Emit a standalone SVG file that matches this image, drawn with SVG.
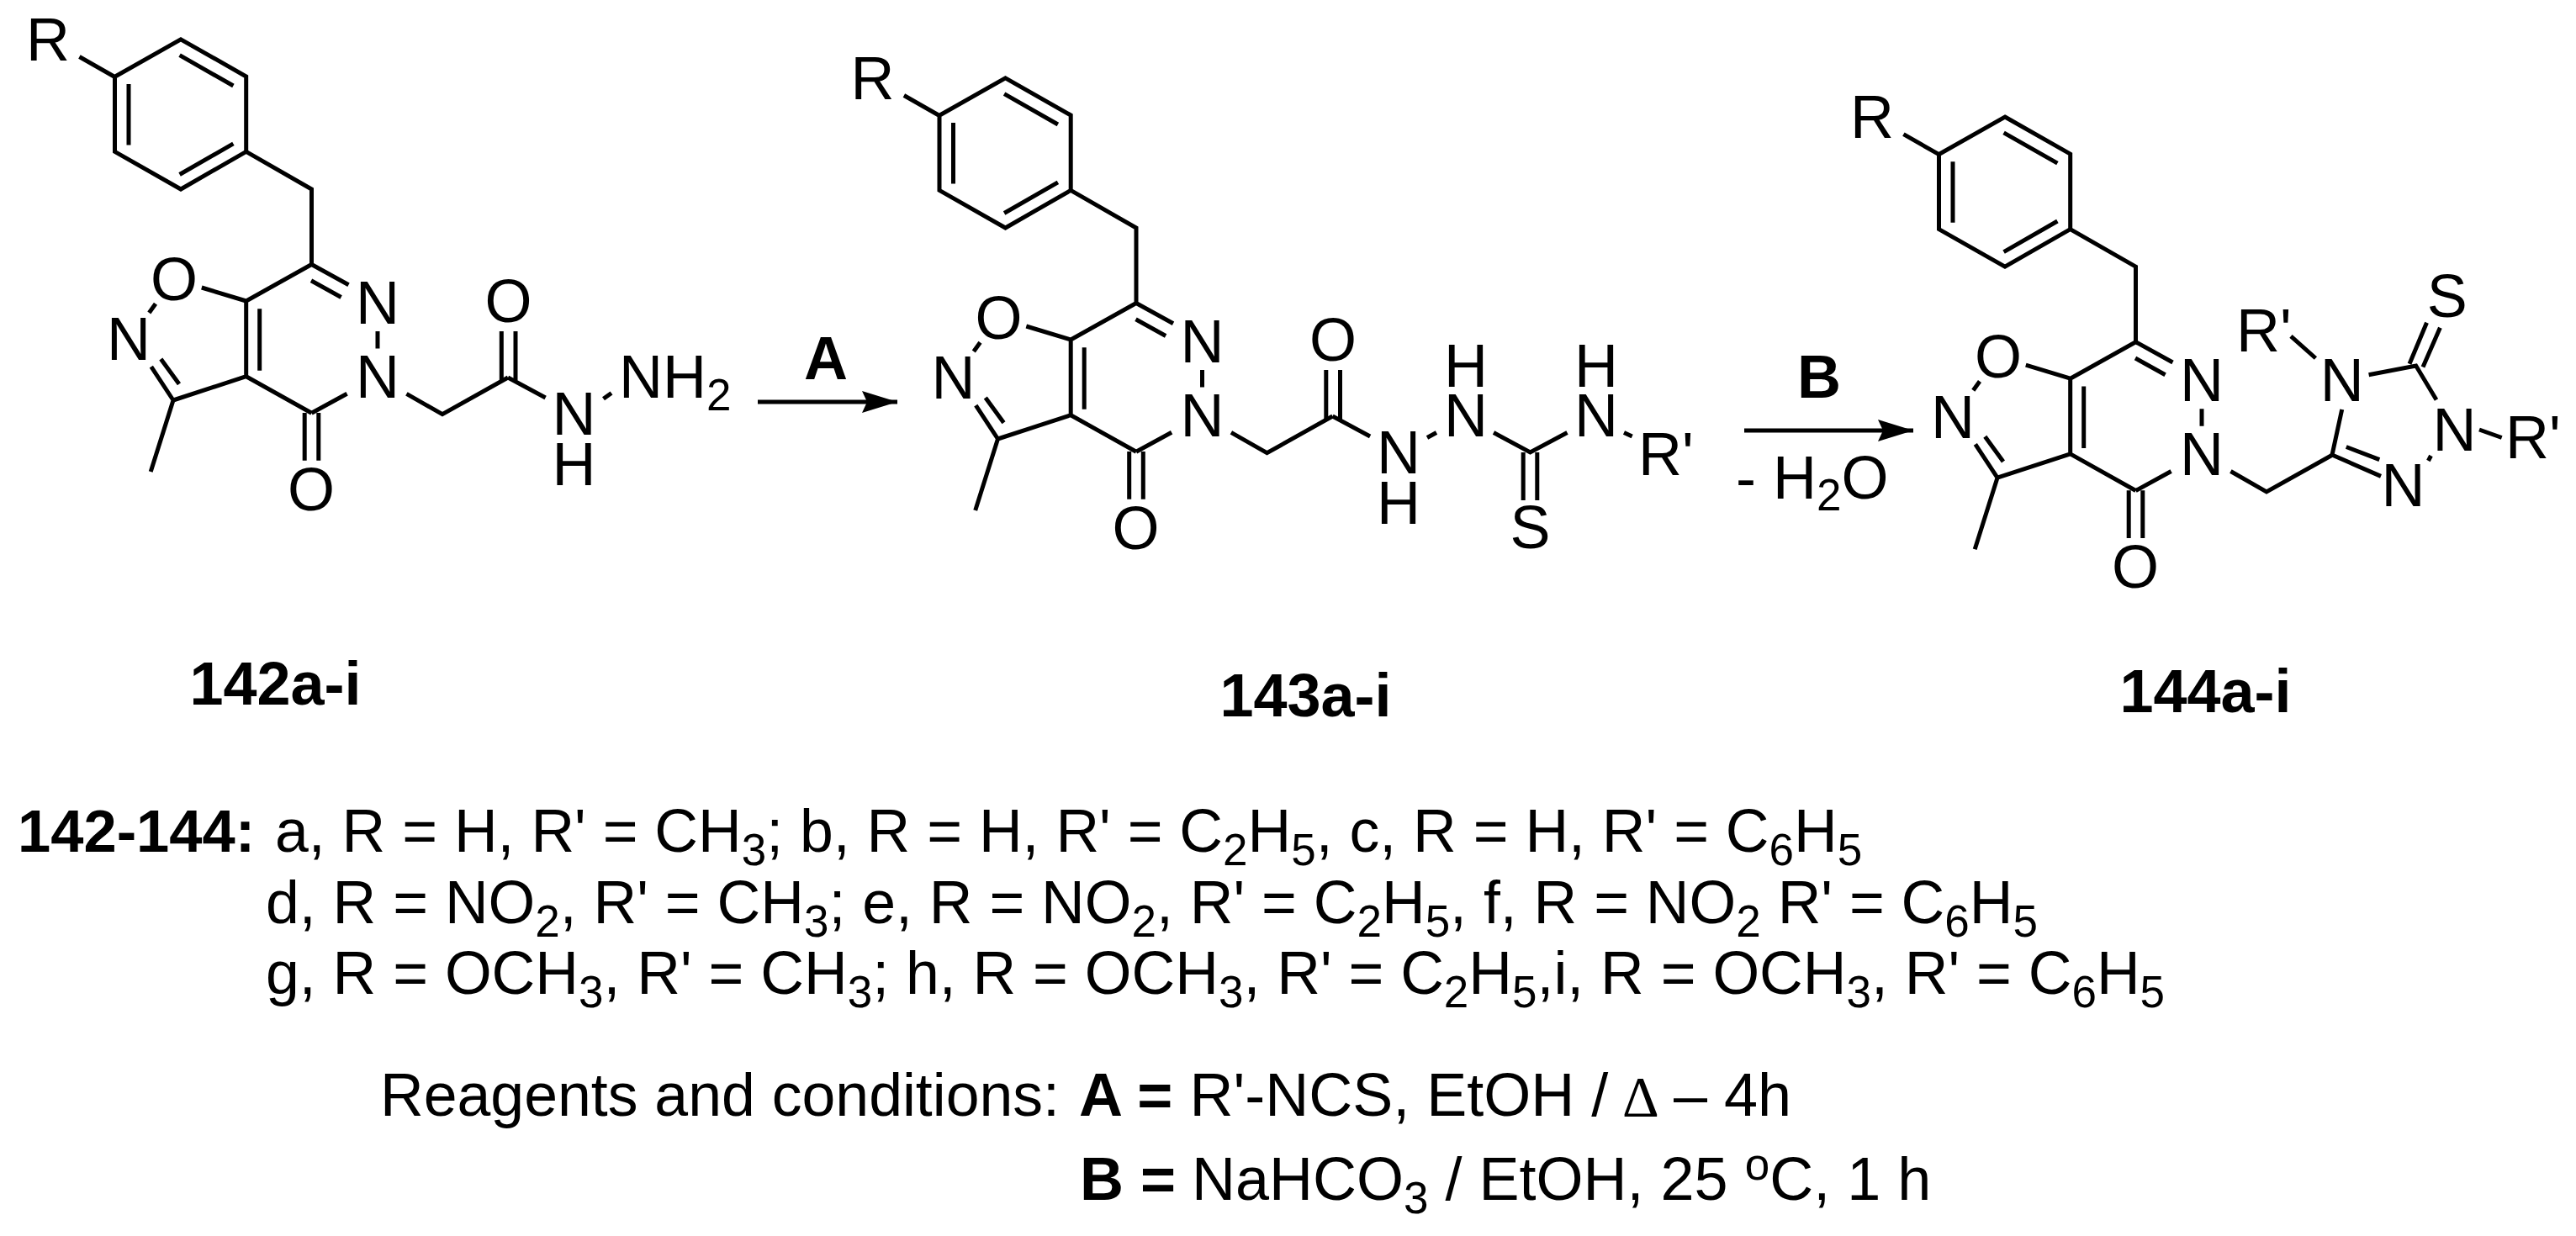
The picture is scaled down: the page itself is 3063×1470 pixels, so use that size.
<svg xmlns="http://www.w3.org/2000/svg" xmlns:xlink="http://www.w3.org/1999/xlink" width="3063" height="1470" viewBox="0 0 3063 1470">
<style>
text{font-family:"Liberation Sans",Arial,sans-serif;font-size:72px;fill:#000}
.a{text-anchor:middle}
.b{font-weight:bold}
.s{font-size:53px}
.leg{font-size:71.6px}
.bond{fill:none;stroke:#000;stroke-width:5;stroke-linejoin:miter;stroke-linecap:butt}
.arr{fill:none;stroke:#000;stroke-width:5}
</style>
<defs>
<path id="core" class="bond" d="M94.4 67.5L136.5 91.5M215 46.8L292.7 91V180.4L215 225L136.5 180.4V91.3ZM213.6 65.7L277.4 102M153 100V172.6M213.6 207.5L277.4 170.8M292.7 180.4L370.5 225V314.5L292.7 358V447.7L370.5 491.3M370.5 314.5L414.5 338.8M370 333.8L405.6 353.5M449 394V414.6M412.6 468.3L370.5 491.3M483.4 468.3L526 492.7L604 449M239.8 342L292.7 358M177.3 372L185 361.3M179.8 436.2L206 476M191.3 427L213 456.8M206 476L292.7 447.7M206 476L179.2 561M362.2 491V547.7M378.8 491V547.7M308.7 367.3V440.8"/>
<path id="acyl" class="bond" d="M596.3 453V394M613 453V394M604 449L648.6 473"/>
<marker id="head" markerUnits="userSpaceOnUse" markerWidth="44" markerHeight="28" refX="42" refY="14" orient="auto"><path d="M0 1L42 14L0 27L6 14Z" fill="#000"/></marker>
</defs>
<rect width="3063" height="1470" fill="#fff"/>
<g id="connectors">
<path class="arr" d="M901 478H1067" marker-end="url(#head)"/>
<path class="arr" d="M2074 512H2275" marker-end="url(#head)"/>
</g>
<g id="compound-142">
<use xlink:href="#core" href="#core"/><use xlink:href="#acyl" href="#acyl"/>
<path class="bond" d="M717.5 474.3L727 467.4"/>
<text class="a" x="57" y="72">R</text>
<text class="a" x="207" y="357">O</text>
<text class="a" x="153" y="428.4">N</text>
<text class="a" x="449" y="384.8">N</text>
<text class="a" x="449" y="473">N</text>
<text class="a" x="604.6" y="383">O</text>
<text class="a" x="682.4" y="517">N</text>
<text class="a" x="682.4" y="577">H</text>
<text x="736" y="473">NH<tspan class="s" dy="15">2</tspan></text>
<text class="a" x="370" y="607">O</text>
</g>
<g id="compound-143">
<g transform="translate(980.5 46)">
<use xlink:href="#core" href="#core"/><use xlink:href="#acyl" href="#acyl"/>
<text class="a" x="57" y="72">R</text>
<text class="a" x="207" y="357">O</text>
<text class="a" x="153" y="428.4">N</text>
<text class="a" x="449" y="384.8">N</text>
<text class="a" x="449" y="473">N</text>
<text class="a" x="604.6" y="383">O</text>
<text class="a" x="682.4" y="517">N</text>
<text class="a" x="682.4" y="577">H</text>
<text class="a" x="370" y="607">O</text>
</g>
<path class="bond" d="M1697 520.5L1708 514.5M1776 514.5L1819.5 538L1863.5 514.5M1811.2 538V595M1827.8 538V595M1931 514.5L1940.7 519"/>
<text class="a" x="1743" y="519">N</text>
<text class="a" x="1743" y="460">H</text>
<text class="a" x="1898" y="519">N</text>
<text class="a" x="1898" y="460">H</text>
<text class="a" x="1819.5" y="652">S</text>
<text x="1948" y="564.5">R'</text>
</g>
<g id="compound-144">
<g transform="translate(2169 92.2)">
<use xlink:href="#core" href="#core"/>
<text class="a" x="57" y="72">R</text>
<text class="a" x="207" y="357">O</text>
<text class="a" x="153" y="428.4">N</text>
<text class="a" x="449" y="384.8">N</text>
<text class="a" x="449" y="473">N</text>
<text class="a" x="370" y="607">O</text>
</g>
<path class="bond" d="M2773 541L2784.7 487M2816.6 445.7L2872.7 435L2897 475.5M2865 432.8L2885.5 383.7M2881 436.5L2901.4 389.7M2948 511L2974.7 520.5M2890.5 542L2887.4 548M2773 541L2831 566.4M2789.8 531.5L2829.3 546.7M2724 399.8L2753.4 426"/>
<text class="a" x="2784.7" y="477">N</text>
<text class="a" x="2909.7" y="377">S</text>
<text class="a" x="2918.6" y="536">N</text>
<text class="a" x="2857.4" y="601.8">N</text>
<text x="2659" y="418">R'</text>
<text x="2979" y="545">R'</text>
</g>
<g id="conditions-A"><text class="a b" x="982" y="451">A</text></g>
<g id="conditions-B"><text class="a b" x="2163" y="473">B</text>
<text x="2064" y="592.6">- H<tspan class="s" dy="14">2</tspan><tspan dy="-14">O</tspan></text></g>
<g id="labels">
<text class="a b" x="327.5" y="838.3">142a-i</text>
<text class="a b" x="1552.5" y="852.3">143a-i</text>
<text class="a b" x="2622.5" y="847.3">144a-i</text>
</g>
<g id="legend">
<text class="b" x="21" y="1013.3" style="font-size:70.5px">142-144:</text>
<text class="leg" x="327" y="1013.3">a, R = H, R' = CH<tspan class="s" dy="16">3</tspan><tspan dy="-16">; b, R = H, R' = C</tspan><tspan class="s" dy="16">2</tspan><tspan dy="-16">H</tspan><tspan class="s" dy="16">5</tspan><tspan dy="-16">, c, R = H, R' = C</tspan><tspan class="s" dy="16">6</tspan><tspan dy="-16">H</tspan><tspan class="s" dy="16">5</tspan></text>
<text class="leg" x="316" y="1098">d, R = NO<tspan class="s" dy="16">2</tspan><tspan dy="-16">, R' = CH</tspan><tspan class="s" dy="16">3</tspan><tspan dy="-16">; e, R = NO</tspan><tspan class="s" dy="16">2</tspan><tspan dy="-16">, R' = C</tspan><tspan class="s" dy="16">2</tspan><tspan dy="-16">H</tspan><tspan class="s" dy="16">5</tspan><tspan dy="-16">, f, R = NO</tspan><tspan class="s" dy="16">2</tspan><tspan dy="-16"> R' = C</tspan><tspan class="s" dy="16">6</tspan><tspan dy="-16">H</tspan><tspan class="s" dy="16">5</tspan></text>
<text class="leg" x="316" y="1181.8">g, R = OCH<tspan class="s" dy="16">3</tspan><tspan dy="-16">, R' = CH</tspan><tspan class="s" dy="16">3</tspan><tspan dy="-16">; h, R = OCH</tspan><tspan class="s" dy="16">3</tspan><tspan dy="-16">, R' = C</tspan><tspan class="s" dy="16">2</tspan><tspan dy="-16">H</tspan><tspan class="s" dy="16">5</tspan><tspan dy="-16">,i, R = OCH</tspan><tspan class="s" dy="16">3</tspan><tspan dy="-16">, R' = C</tspan><tspan class="s" dy="16">6</tspan><tspan dy="-16">H</tspan><tspan class="s" dy="16">5</tspan></text>
<text class="leg" x="452" y="1327">Reagents and conditions: </text>
<text class="b" x="1283" y="1327">A =</text>
<text x="1414.5" y="1327">R'-NCS, EtOH / <tspan x="1929" font-family="Liberation Serif" font-size="68">Δ</tspan><tspan x="1990">– 4h</tspan></text>
<text class="b" x="1284" y="1427">B =</text>
<text x="1417" y="1427">NaHCO<tspan class="s" dy="16">3</tspan><tspan dy="-16"> / EtOH, 25 </tspan><tspan class="s" dy="-24">o</tspan><tspan dy="24">C, 1 h</tspan></text>
</g>
</svg>
